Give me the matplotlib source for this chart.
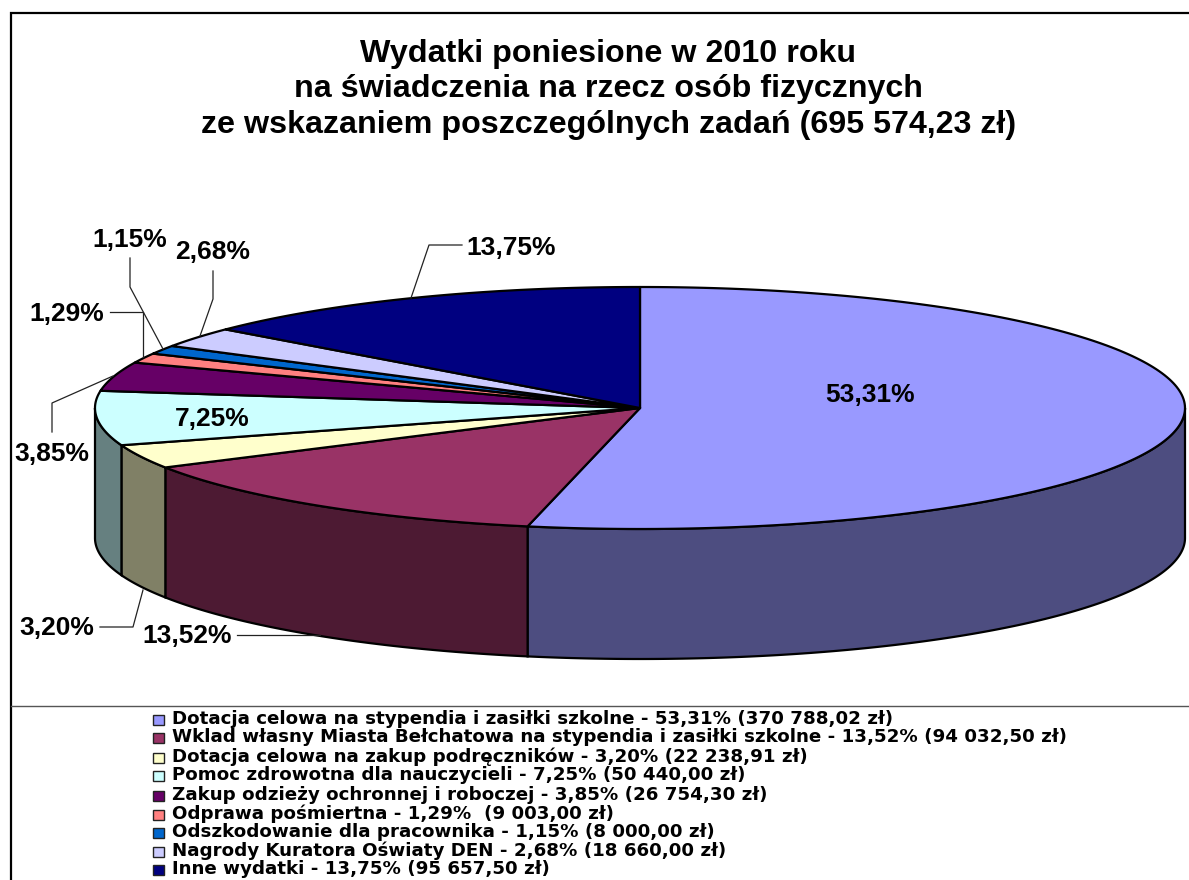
import numpy as np
import matplotlib
matplotlib.use("Agg")
import matplotlib.pyplot as plt
from matplotlib.colors import to_rgb
from matplotlib.patches import Polygon, Rectangle

plt.rcParams['font.family'] = ['Liberation Sans', 'DejaVu Sans']

title_lines = ['Wydatki poniesione w 2010 roku',
               'na świadczenia na rzecz osób fizycznych',
               'ze wskazaniem poszczególnych zadań (695 574,23 zł)']

amounts = [370788.02, 94032.50, 22238.91, 50440.00, 26754.30, 9003.00, 8000.00, 18660.00, 95657.50]
pct_labels = ['53,31%', '13,52%', '3,20%', '7,25%', '3,85%', '1,29%', '1,15%', '2,68%', '13,75%']
legend_labels = [
    'Dotacja celowa na stypendia i zasiłki szkolne - 53,31% (370 788,02 zł)',
    'Wklad własny Miasta Bełchatowa na stypendia i zasiłki szkolne - 13,52% (94 032,50 zł)',
    'Dotacja celowa na zakup podręczników - 3,20% (22 238,91 zł)',
    'Pomoc zdrowotna dla nauczycieli - 7,25% (50 440,00 zł)',
    'Zakup odzieży ochronnej i roboczej - 3,85% (26 754,30 zł)',
    'Odprawa pośmiertna - 1,29%  (9 003,00 zł)',
    'Odszkodowanie dla pracownika - 1,15% (8 000,00 zł)',
    'Nagrody Kuratora Oświaty DEN - 2,68% (18 660,00 zł)',
    'Inne wydatki - 13,75% (95 657,50 zł)',
]
colors = ['#9999FF', '#993366', '#FFFFCC', '#CCFFFF', '#660066', '#FF8080', '#0066CC', '#CCCCFF', '#000080']

# label centre x and baseline y, and leader lines, in pixels
label_pos = [(870.5, 402), (187, 643), (57, 635), (212.5, 426), (52, 461), (67, 321), (130, 247), (212.5, 259), (511.5, 255)]
leaders = [
    [(237, 635), (320, 635)],
    [(100, 627), (133, 627), (143, 590)],
    [(52, 432), (52, 403), (113, 376)],
    [(110, 312), (143, 312), (143, 357)],
    [(130, 258), (130, 287), (163, 349)],
    [(213, 271), (213, 299), (200, 336)],
    [(462, 245), (429, 245), (411, 298)],
]

cx, cy, rx, ry, depth = 640, 408, 545, 121, 130

fig = plt.figure(figsize=(11.89, 8.8), dpi=100)
ax = fig.add_axes([0, 0, 1, 1])
ax.set_xlim(0, 1189)
ax.set_ylim(880, 0)
ax.axis('off')


def rim(t):
    # t is clockwise from the top of the pie, degrees
    t = np.radians(t)
    return cx + rx * np.sin(t), cy - ry * np.cos(t)


# frame
ax.plot([11, 11, 1189], [880, 13, 13], color='black', lw=1.6, solid_joinstyle='miter')
ax.plot([11, 1189], [706, 706], color='#555555', lw=1.0)

edges = np.concatenate([[0], np.cumsum(amounts)]) / np.sum(amounts) * 360

# side walls first (only the front half shows)
for i, col in enumerate(colors):
    a, b = max(edges[i], 90), min(edges[i + 1], 270)
    if b <= a:
        continue
    t = np.linspace(a, b, 200)
    x, y = rim(t)
    pts = np.column_stack([np.r_[x, x[::-1]], np.r_[y, y[::-1] + depth]])
    ax.add_patch(Polygon(pts, fc=np.array(to_rgb(col)) * 0.5, ec='black', lw=1.6))

# top slices
for i, col in enumerate(colors):
    t = np.linspace(edges[i], edges[i + 1], 200)
    x, y = rim(t)
    pts = np.column_stack([np.r_[cx, x], np.r_[cy, y]])
    ax.add_patch(Polygon(pts, fc=col, ec='black', lw=1.6, joinstyle='round'))

for pts in leaders:
    xs, ys = zip(*pts)
    ax.plot(xs, ys, color='#222222', lw=0.9)

for lab, (x, y) in zip(pct_labels, label_pos):
    ax.text(x, y, lab, ha='center', va='baseline', fontsize=19, fontweight='bold', color='black')

for line, y in zip(title_lines, [62, 97, 133]):
    ax.text(608.5, y, line, ha='center', va='baseline', fontsize=23.2, fontweight='bold', color='black')

legend_y = [720, 738, 758, 776, 796, 815, 833, 852, 870]
for lab, col, y in zip(legend_labels, colors, legend_y):
    ax.add_patch(Rectangle((153, y - 5), 11, 10, fc=col, ec='#222222', lw=1.0))
    ax.text(172, y - 1, lab, ha='left', va='center', fontsize=13.15, fontweight='bold', color='black',
            family='DejaVu Sans')

plt.savefig('out.png', dpi=100)
plt.close(fig)
